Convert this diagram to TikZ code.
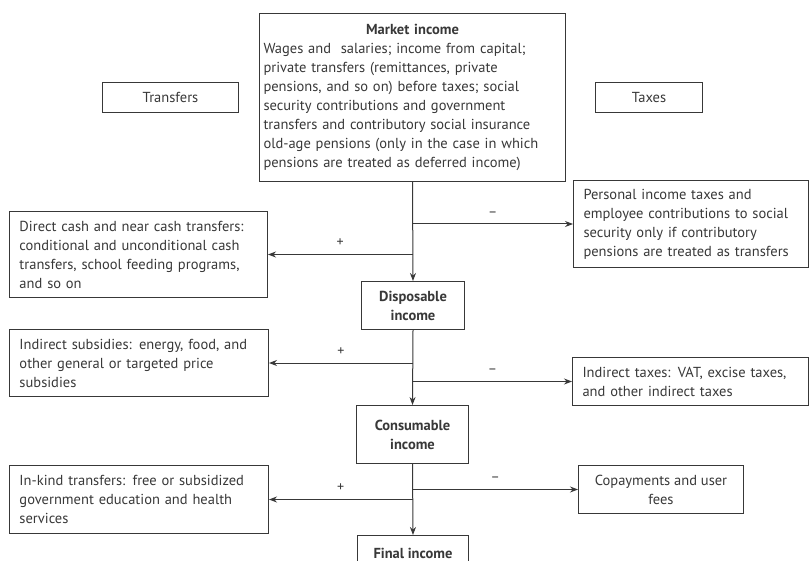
\documentclass[tikz,border=0pt]{standalone}
\usepackage{fontspec}
\setmainfont{PT Sans}
\usetikzlibrary{arrows.meta}
\definecolor{ink}{HTML}{383838}
\newcommand{\midline}[1]{\hspace*{0pt plus 1fill}#1\hspace*{0pt plus 1fill}\null}
\begin{document}
\begin{tikzpicture}[x=1pt,y=-1pt,line width=1pt,draw=ink,
  box/.style={draw=ink,text=ink,inner sep=0pt,anchor=north west,
    font=\fontsize{14.5}{19}\selectfont},
  txt/.style={box,align=left},
  mid/.style={box,align=center},
  arr/.style={-{Stealth[length=8pt,width=6pt]}},
  sign/.style={above=4pt,text=ink,font=\fontsize{14}{14}\selectfont}]
  \useasboundingbox (0,0) rectangle (810,561);
  \node[txt,minimum width=306,minimum height=168,text width=298] (mkt) at (259,13)
    {\midline{\textbf{Market income}}\\
     Wages and\ \ salaries; income from capital;\\
     private transfers (remittances, private\\
     pensions, and so on) before taxes; social\\
     security contributions and government\\
     transfers and contributory social insurance\\
     old-age pensions (only in the case in which\\
     pensions are treated as deferred income)};
  \node[mid,minimum width=136,minimum height=30] (trhead) at (102,82) {Transfers};
  \node[mid,minimum width=107,minimum height=30] (taxhead) at (595,82) {Taxes};
  \node[txt,minimum width=258,minimum height=86,text width=238] (tr1) at (9,211)
    {Direct cash and near cash transfers:\\
     conditional and unconditional cash\\
     transfers, school feeding programs,\\
     and so on};
  \node[txt,minimum width=235,minimum height=87,text width=215] (tax1) at (573,180)
    {Personal income taxes and\\
     employee contributions to social\\
     security only if contributory\\
     pensions are treated as transfers};
  \node[mid,minimum width=103,minimum height=48,font=\fontsize{14.5}{19}\selectfont\bfseries] (disp) at (361,281)
    {Disposable\\income};
  \node[txt,minimum width=259,minimum height=67,text width=239] (tr2) at (9,329)
    {Indirect subsidies: energy, food, and\\
     other general or targeted price\\
     subsidies};
  \node[txt,minimum width=236,minimum height=48,text width=216] (tax2) at (572,357)
    {Indirect taxes: VAT, excise taxes,\\
     and other indirect taxes};
  \node[mid,minimum width=112,minimum height=58,font=\fontsize{14.5}{19}\selectfont\bfseries] (cons) at (356,405)
    {Consumable\\income};
  \node[txt,minimum width=259,minimum height=68,text width=239] (tr3) at (9,465)
    {In-kind transfers: free or subsidized\\
     government education and health\\
     services};
  \node[mid,minimum width=165,minimum height=48] (tax3) at (578,465)
    {Copayments and user\\fees};
  \node[mid,minimum width=111,minimum height=36,font=\fontsize{14.5}{19}\selectfont\bfseries] (fin) at (357,535)
    {Final income};

  \draw[arr] (mkt.south) -- (disp.north);
  \draw[arr] (mkt.south |- tax1.west) -- node[sign]{--} (tax1.west);
  \draw[arr] (mkt.south |- tr1.east) -- node[sign]{+} (tr1.east);
  \draw[arr] (disp.south) -- (cons.north);
  \draw[arr] (disp.south |- tr2.east) -- node[sign]{+} (tr2.east);
  \draw[arr] (disp.south |- tax2.west) -- node[sign]{--} (tax2.west);
  \draw[arr] (cons.south) -- (fin.north);
  \draw[arr] (cons.south |- tr3.east) -- node[sign]{+} (tr3.east);
  \draw[arr] (cons.south |- tax3.west) -- node[sign]{--} (tax3.west);
\end{tikzpicture}
\end{document}
